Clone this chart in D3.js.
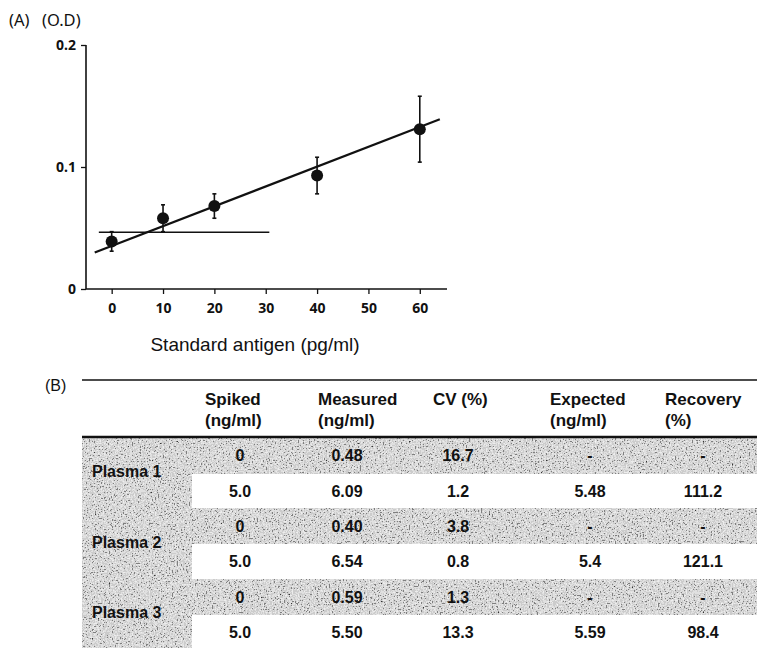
<!DOCTYPE html>
<html>
<head>
<meta charset="utf-8">
<script src="https://cdn.jsdelivr.net/npm/d3@7"></script>
<style>
  body { margin: 0; background: #fff; }
  svg { display: block; }
</style>
</head>
<body>
<svg id="fig" width="757" height="648"></svg>
<script>
// ---- panel A data: standard curve ----
var concentrations = [0, 10, 20, 40, 60];
var odMeans = [0.039, 0.058, 0.068, 0.093, 0.131];
var odErrors = [0.008, 0.011, 0.010, 0.015, 0.027];
var xTicks = [0, 10, 20, 30, 40, 50, 60];
var yTicks = [0, 0.1, 0.2];
var fitSlope = 0.001624;
var fitIntercept = 0.0353;
var fitRange = [-3.3, 63.9];
var cutoffValue = 0.0465;
var cutoffRange = [-2.5, 30.7];

// ---- panel B data: spike recovery table ----
var headerTop = ['Spiked', 'Measured', 'CV (%)', 'Expected', 'Recovery'];
var headerBottom = ['(ng/ml)', '(ng/ml)', '', '(ng/ml)', '(%)'];
var samples = ['Plasma 1', 'Plasma 2', 'Plasma 3'];
var spikedVals = ['0', '5.0', '0', '5.0', '0', '5.0'];
var measuredVals = ['0.48', '6.09', '0.40', '6.54', '0.59', '5.50'];
var cvVals = ['16.7', '1.2', '3.8', '0.8', '1.3', '13.3'];
var expectedVals = ['-', '5.48', '-', '5.4', '-', '5.59'];
var recoveryVals = ['-', '111.2', '-', '121.1', '-', '98.4'];

var svg = d3.select('#fig');
var ink = '#111';
var chartFont = '"Noto Sans", "Open Sans", sans-serif';
var tableFont = '"Liberation Sans", Arial, sans-serif';

// speckled grey like the scanned shading
var defs = svg.append('defs');
var speck = defs.append('filter').attr('id', 'speck')
  .attr('x', 0).attr('y', 0).attr('width', 1).attr('height', 1)
  .attr('color-interpolation-filters', 'sRGB');
speck.append('feTurbulence').attr('type', 'fractalNoise')
  .attr('baseFrequency', 0.65).attr('numOctaves', 2).attr('seed', 4);
speck.append('feColorMatrix').attr('type', 'matrix')
  .attr('values', '1 0 0 0 0  1 0 0 0 0  1 0 0 0 0  0 0 0 0 1');
var ct = speck.append('feComponentTransfer');
['feFuncR', 'feFuncG', 'feFuncB'].forEach(function(f) {
  ct.append(f).attr('type', 'discrete').attr('tableValues', '0.2 0.5 0.8 0.88 0.93 0.97');
});

// ================= panel A =================
var x = d3.scaleLinear().domain([-5, 65.3]).range([86, 447]);
var y = d3.scaleLinear().domain([0, 0.2]).range([289, 45]);

var chart = svg.append('g').attr('class', 'panel-a');

chart.append('text')
  .attr('x', 9).attr('y', 26)
  .style('font-family', chartFont).style('font-size', '16.5px')
  .attr('fill', ink).text('(A)');
chart.append('text')
  .attr('x', 42).attr('y', 26)
  .style('font-family', chartFont).style('font-size', '16.5px')
  .attr('fill', ink).text('(O.D)');

var yAxis = chart.append('g')
  .attr('transform', 'translate(' + x.range()[0] + ',0)')
  .call(d3.axisLeft(y).tickValues(yTicks).tickSize(5).tickPadding(5)
    .tickFormat(function(d) { return d === 0 ? '0' : d3.format('.1f')(d); }));

var xAxis = chart.append('g')
  .attr('transform', 'translate(0,' + y.range()[0] + ')')
  .call(d3.axisBottom(x).tickValues(xTicks).tickSize(5).tickPadding(9));

[xAxis, yAxis].forEach(function(ax) {
  ax.select('.domain').attr('stroke', ink).attr('stroke-width', 1.6);
  ax.selectAll('.tick line').attr('stroke', ink).attr('stroke-width', 1.3);
  ax.selectAll('.tick text')
    .attr('fill', ink)
    .style('font-family', chartFont)
    .style('font-size', '14px')
    .style('font-weight', 'bold');
});
// plain domain lines without end caps
yAxis.select('.domain').attr('d', 'M0,' + y.range()[0] + 'V' + y.range()[1]);
xAxis.select('.domain').attr('d', 'M' + x.range()[0] + ',0H' + x.range()[1]);

chart.append('text')
  .attr('x', 255).attr('y', 351)
  .attr('text-anchor', 'middle')
  .style('font-family', tableFont)
  .style('font-size', '19px')
  .attr('fill', ink)
  .text('Standard antigen (pg/ml)');

// cutoff line
chart.append('line')
  .attr('x1', x(cutoffRange[0])).attr('x2', x(cutoffRange[1]))
  .attr('y1', y(cutoffValue)).attr('y2', y(cutoffValue))
  .attr('stroke', ink).attr('stroke-width', 1.5);

// regression line
chart.append('line')
  .attr('x1', x(fitRange[0])).attr('y1', y(fitIntercept + fitSlope * fitRange[0]))
  .attr('x2', x(fitRange[1])).attr('y2', y(fitIntercept + fitSlope * fitRange[1]))
  .attr('stroke', ink).attr('stroke-width', 2.2);

var pts = concentrations.map(function(c, i) {
  return { c: c, m: odMeans[i], e: odErrors[i] };
});

var err = chart.append('g').selectAll('g').data(pts).enter().append('g');
err.append('line')
  .attr('x1', function(d) { return x(d.c); })
  .attr('x2', function(d) { return x(d.c); })
  .attr('y1', function(d) { return y(d.m + d.e); })
  .attr('y2', function(d) { return y(d.m - d.e); })
  .attr('stroke', ink).attr('stroke-width', 1.6);
err.selectAll('.cap').data(function(d) { return [d.m + d.e, d.m - d.e].map(function(v) { return { c: d.c, v: v }; }); })
  .enter().append('line')
  .attr('x1', function(d) { return x(d.c) - 2; })
  .attr('x2', function(d) { return x(d.c) + 2; })
  .attr('y1', function(d) { return y(d.v); })
  .attr('y2', function(d) { return y(d.v); })
  .attr('stroke', ink).attr('stroke-width', 1.6);

chart.append('g').selectAll('circle').data(pts).enter().append('circle')
  .attr('cx', function(d) { return x(d.c); })
  .attr('cy', function(d) { return y(d.m); })
  .attr('r', 6)
  .attr('fill', ink);

// ================= panel B =================
var tbl = svg.append('g').attr('class', 'panel-b');
var tableLeft = 82, tableRight = 757, labelColRight = 192;
var colHeadX = [205, 318, 433, 550, 665];
var colValX = [240, 347, 458, 590, 703];
var columns = [spikedVals, measuredVals, cvVals, expectedVals, recoveryVals];

var rowIdx = d3.range(spikedVals.length);
var row = d3.scaleBand().domain(rowIdx).range([438, 650]);

// sample label column, shaded full height
tbl.append('rect')
  .attr('x', tableLeft).attr('y', row.range()[0])
  .attr('width', labelColRight - tableLeft).attr('height', row.range()[1] - row.range()[0])
  .attr('filter', 'url(#speck)');
// shaded rows for unspiked samples
tbl.selectAll('rect.band').data(rowIdx.filter(function(i) { return i % 2 === 0; }))
  .enter().append('rect').attr('class', 'band')
  .attr('x', labelColRight).attr('y', function(i) { return row(i); })
  .attr('width', tableRight - labelColRight).attr('height', row.bandwidth())
  .attr('filter', 'url(#speck)');

tbl.append('text')
  .attr('x', 45).attr('y', 391)
  .style('font-family', tableFont)
  .style('font-size', '16px')
  .attr('fill', ink)
  .text('(B)');

tbl.append('line')
  .attr('x1', tableLeft).attr('x2', tableRight).attr('y1', 380).attr('y2', 380)
  .attr('stroke', ink).attr('stroke-width', 1.5);
tbl.append('line')
  .attr('x1', tableLeft).attr('x2', tableRight).attr('y1', 437).attr('y2', 437)
  .attr('stroke', ink).attr('stroke-width', 2.5);

tbl.selectAll('text.h1').data(headerTop).enter().append('text')
  .attr('x', function(d, i) { return colHeadX[i]; }).attr('y', 405)
  .style('font-family', tableFont).style('font-size', '17px').style('font-weight', 'bold')
  .attr('fill', ink).text(function(d) { return d; });
tbl.selectAll('text.h2').data(headerBottom).enter().append('text')
  .attr('x', function(d, i) { return colHeadX[i]; }).attr('y', 426)
  .style('font-family', tableFont).style('font-size', '17px').style('font-weight', 'bold')
  .attr('fill', ink).text(function(d) { return d; });

tbl.selectAll('text.sample').data(samples).enter().append('text')
  .attr('x', 92)
  .attr('y', function(d, i) { return row(2 * i + 1) - 2; })
  .attr('dominant-baseline', 'central')
  .style('font-family', tableFont).style('font-size', '16px').style('font-weight', 'bold')
  .attr('fill', ink).text(function(d) { return d; });

columns.forEach(function(vals, ci) {
  tbl.selectAll('text.c' + ci).data(vals).enter().append('text')
    .attr('x', colValX[ci])
    .attr('y', function(d, i) { return row(i) + row.bandwidth() / 2; })
    .attr('text-anchor', 'middle')
    .attr('dominant-baseline', 'central')
    .style('font-family', tableFont).style('font-size', '16px').style('font-weight', 'bold')
    .attr('fill', ink).text(function(d) { return d; });
});
</script>
</body>
</html>
